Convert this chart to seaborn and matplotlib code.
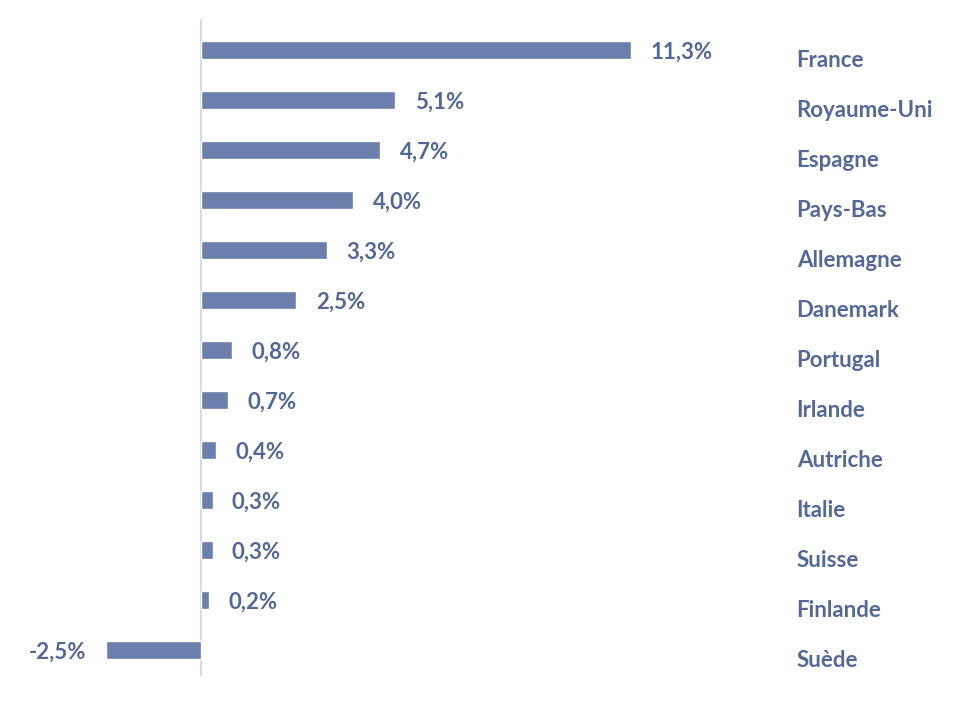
import numpy as np
import pandas as pd
import matplotlib
matplotlib.use("Agg")
import matplotlib.pyplot as plt
import matplotlib.transforms as mtrans
import seaborn as sns

sns.set_style("white")
plt.rcParams['font.family'] = ['Lato', 'DejaVu Sans']

# data
countries = ["France", "Royaume-Uni", "Espagne", "Pays-Bas", "Allemagne", "Danemark",
             "Portugal", "Irlande", "Autriche", "Italie", "Suisse", "Finlande", "Suède"]
values = [11.3, 5.1, 4.7, 4.0, 3.3, 2.5, 0.8, 0.7, 0.4, 0.3, 0.3, 0.2, -2.5]
labels = ["11,3%", "5,1%", "4,7%", "4,0%", "3,3%", "2,5%", "0,8%", "0,7%",
          "0,4%", "0,3%", "0,3%", "0,2%", "-2,5%"]

df = pd.DataFrame({"pays": countries, "valeur": values})

bar_col = "#6a7fab"
txt_col = "#53689a"
fs = 16

fig = plt.figure(figsize=(9.8, 7.16), dpi=100)
ax = fig.add_axes([0, 0, 1, 1])

sns.barplot(data=df, y="pays", x="valeur", orient="h", color=bar_col,
            saturation=1, width=0.36, ax=ax)

# zero axis line
ax.plot([0, 0], [-0.6, 12.5], color="#d3dae7", lw=1.5, zorder=0)

ax.set_xlim(-5.28, 20.45)
ax.set_ylim(13.32, -1.0)
ax.axis("off")

for i, (v, lab) in enumerate(zip(values, labels)):
    if v >= 0:
        ax.annotate(lab, (v, i + 0.04), xytext=(14, 0), textcoords="offset points",
                    ha="left", va="center", fontsize=fs, fontweight="bold", color=txt_col)
    else:
        ax.annotate(lab, (v, i + 0.04), xytext=(-14, 0), textcoords="offset points",
                    ha="right", va="center", fontsize=fs, fontweight="bold", color=txt_col)

trans = mtrans.blended_transform_factory(ax.transAxes, ax.transData)
for i, c in enumerate(countries):
    ax.text(0.813, i + 0.21, c, transform=trans, ha="left", va="center",
            fontsize=fs, fontweight="bold", color=txt_col)

fig.savefig("out.png", dpi=100, facecolor="white")
